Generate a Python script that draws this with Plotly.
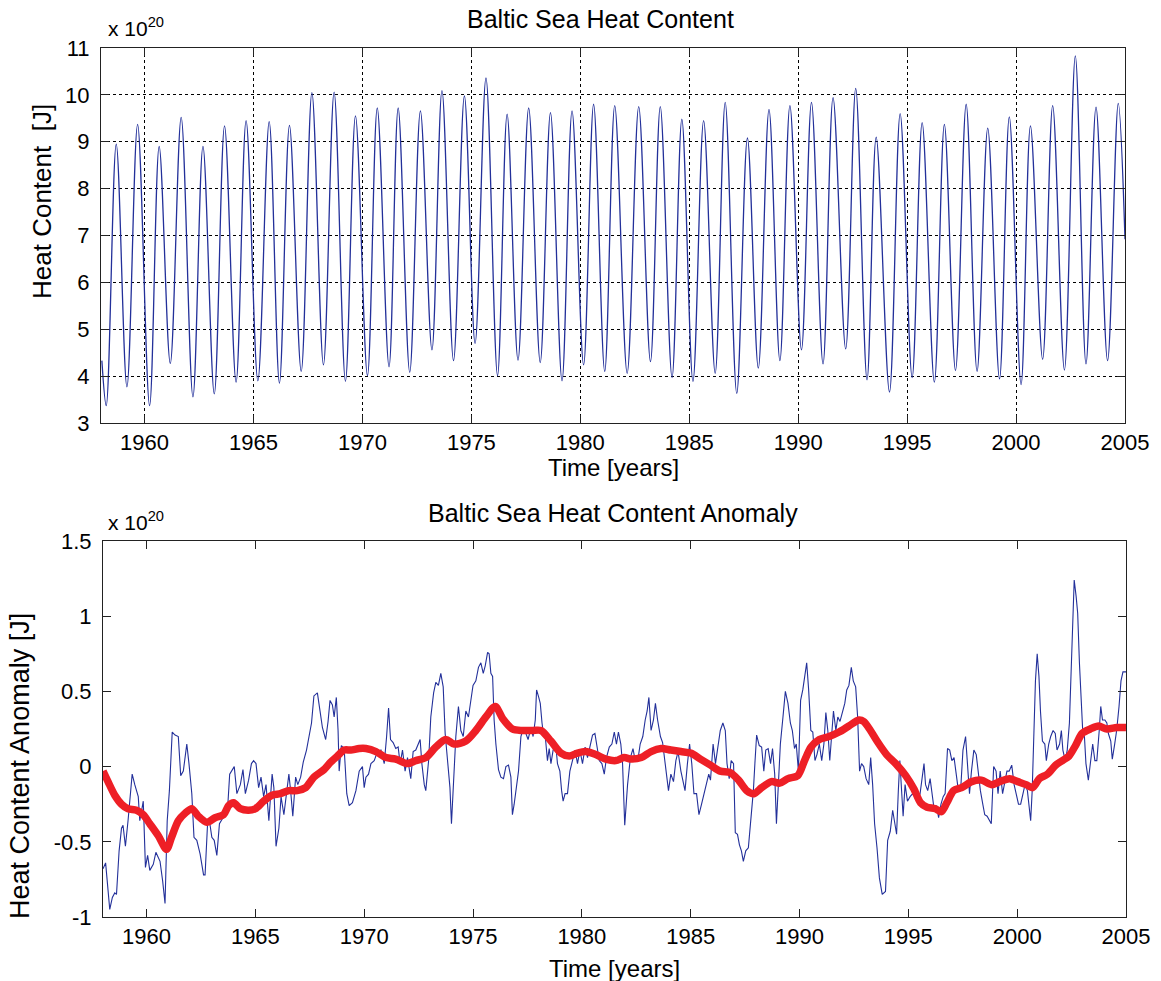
import plotly.graph_objects as go

# ---------------- DATA ----------------
# Top panel: seasonal extremes of Baltic Sea heat content (x 10^20 J)
start_t, start_v = 1958.04, 4.33
end_t, end_v = 2005.0, 6.92
trough_t = [1958.24, 1959.19, 1960.23, 1961.18, 1962.22, 1963.20, 1964.20, 1965.20, 1966.19, 1967.19,
            1968.21, 1969.22, 1970.23, 1971.22, 1972.17, 1973.19, 1974.18, 1975.17, 1976.20, 1977.14,
            1978.16, 1979.16, 1980.15, 1981.12, 1982.15, 1983.22, 1984.21, 1985.17, 1986.19, 1987.18,
            1988.17, 1989.16, 1990.15, 1991.14, 1992.18, 1993.16, 1994.19, 1995.23, 1996.25, 1997.22,
            1998.21, 1999.24, 2000.23, 2001.22, 2002.22, 2003.21, 2004.20]
trough_v = [3.37, 3.77, 3.37, 4.27, 3.56, 3.62, 3.87, 3.90, 3.85, 4.10,
            4.24, 3.89, 4.01, 4.20, 4.08, 4.56, 4.33, 4.70, 4.01, 4.34,
            4.29, 3.90, 4.24, 4.10, 4.06, 4.31, 3.97, 3.89, 4.06, 3.63,
            4.17, 4.33, 4.56, 4.26, 4.58, 3.92, 3.66, 3.97, 3.87, 4.12,
            4.10, 3.94, 3.82, 4.36, 4.13, 4.26, 4.33]
peak_t = [1958.70, 1959.68, 1960.67, 1961.68, 1962.68, 1963.67, 1964.66, 1965.72, 1966.65, 1967.68,
          1968.70, 1969.68, 1970.68, 1971.64, 1972.66, 1973.65, 1974.68, 1975.67, 1976.64, 1977.63,
          1978.63, 1979.62, 1980.61, 1981.58, 1982.68, 1983.67, 1984.66, 1985.66, 1986.65, 1987.67,
          1988.66, 1989.62, 1990.61, 1991.60, 1992.64, 1993.58, 1994.68, 1995.69, 1996.71, 1997.71,
          1998.70, 1999.69, 2000.66, 2001.68, 2002.72, 2003.67, 2004.69]
peak_v = [8.95, 9.37, 8.90, 9.52, 8.90, 9.34, 9.45, 9.43, 9.35, 10.05,
          10.06, 9.55, 9.72, 9.72, 9.66, 10.09, 9.98, 10.36, 9.59, 9.72,
          9.62, 9.66, 9.80, 9.77, 9.75, 9.75, 9.48, 9.45, 9.84, 9.08,
          9.69, 9.77, 9.84, 9.94, 10.14, 9.10, 9.60, 9.41, 9.37, 9.80,
          9.29, 9.53, 9.34, 9.77, 10.83, 9.74, 9.82]

# Bottom panel: heat content anomaly (x 10^20 J)
anom_t = [1958.0, 1958.12, 1958.31, 1958.43, 1958.54, 1958.62, 1958.74, 1958.85, 1958.92, 1959.03,
          1959.15, 1959.34, 1959.46, 1959.62, 1959.69, 1959.85, 1959.95, 1960.05, 1960.15, 1960.31,
          1960.43, 1960.62, 1960.74, 1960.85, 1960.95, 1961.05, 1961.18, 1961.31, 1961.46, 1961.57,
          1961.69, 1961.85, 1961.95, 1962.08, 1962.18, 1962.31, 1962.46, 1962.62, 1962.69, 1962.80,
          1962.89, 1963.0, 1963.11, 1963.23, 1963.35, 1963.51, 1963.62, 1963.72, 1963.82, 1963.92,
          1964.03, 1964.15, 1964.31, 1964.43, 1964.54, 1964.69, 1964.82, 1964.92, 1965.03, 1965.15,
          1965.26, 1965.38, 1965.49, 1965.62, 1965.77, 1965.85, 1965.95, 1966.08, 1966.18, 1966.31,
          1966.43, 1966.54, 1966.62, 1966.72, 1966.85, 1966.95, 1967.08, 1967.2, 1967.35, 1967.46,
          1967.58, 1967.69, 1967.85, 1967.97, 1968.08, 1968.23, 1968.34, 1968.43, 1968.54, 1968.62,
          1968.72, 1968.80, 1968.85, 1968.95, 1969.08, 1969.2, 1969.31, 1969.46, 1969.62, 1969.77,
          1969.92, 1970.0, 1970.08, 1970.2, 1970.31, 1970.46, 1970.61, 1970.77, 1970.92, 1971.03,
          1971.12, 1971.21, 1971.33, 1971.45, 1971.56, 1971.65, 1971.76, 1971.88, 1971.99, 1972.14,
          1972.25, 1972.37, 1972.5, 1972.57, 1972.65, 1972.76, 1972.83, 1972.96, 1973.06, 1973.19,
          1973.29, 1973.41, 1973.52, 1973.63, 1973.72, 1973.83, 1973.94, 1974.01, 1974.10, 1974.21,
          1974.33, 1974.44, 1974.55, 1974.67, 1974.79, 1974.90, 1975.0, 1975.13, 1975.25, 1975.36,
          1975.47, 1975.56, 1975.67, 1975.74, 1975.82, 1975.9, 1975.97, 1976.05, 1976.17, 1976.28,
          1976.40, 1976.51, 1976.63, 1976.74, 1976.81, 1976.89, 1977.0, 1977.09, 1977.20, 1977.30,
          1977.43, 1977.53, 1977.66, 1977.76, 1977.86, 1977.92, 1978.02, 1978.09, 1978.17, 1978.25,
          1978.32, 1978.42, 1978.50, 1978.58, 1978.68, 1978.81, 1978.88, 1978.99, 1979.07, 1979.14,
          1979.23, 1979.34, 1979.45, 1979.57, 1979.69, 1979.80, 1979.91, 1980.03, 1980.15, 1980.26,
          1980.38, 1980.49, 1980.60, 1980.69, 1980.80, 1980.92, 1981.03, 1981.13, 1981.26, 1981.38,
          1981.49, 1981.59, 1981.68, 1981.79, 1981.87, 1981.97, 1982.10, 1982.23, 1982.35, 1982.45,
          1982.58, 1982.68, 1982.80, 1982.91, 1983.0, 1983.08, 1983.18, 1983.29, 1983.38, 1983.48,
          1983.61, 1983.71, 1983.79, 1983.89, 1983.98, 1984.09, 1984.21, 1984.32, 1984.42, 1984.55,
          1984.65, 1984.74, 1984.85, 1984.95, 1985.05, 1985.15, 1985.27, 1985.38, 1985.50, 1985.61,
          1985.73, 1985.83, 1985.91, 1986.03, 1986.14, 1986.24, 1986.36, 1986.48, 1986.59, 1986.67,
          1986.77, 1986.86, 1986.97, 1987.05, 1987.15, 1987.24, 1987.33, 1987.42, 1987.53, 1987.65,
          1987.76, 1987.88, 1987.95, 1988.03, 1988.15, 1988.26, 1988.36, 1988.45, 1988.56, 1988.67,
          1988.76, 1988.86, 1988.94, 1989.02, 1989.12, 1989.24, 1989.35, 1989.47, 1989.58, 1989.67,
          1989.77, 1989.85, 1989.95, 1990.05, 1990.15, 1990.24, 1990.33, 1990.42, 1990.52, 1990.61,
          1990.71, 1990.80, 1990.91, 1991.02, 1991.12, 1991.21, 1991.30, 1991.39, 1991.48, 1991.56,
          1991.67, 1991.76, 1991.86, 1991.97, 1992.08, 1992.17, 1992.27, 1992.38, 1992.47, 1992.58,
          1992.67, 1992.76, 1992.85, 1992.95, 1993.06, 1993.18, 1993.27, 1993.36, 1993.45, 1993.56,
          1993.67, 1993.80, 1993.95, 1994.05, 1994.17, 1994.28, 1994.38, 1994.46, 1994.54, 1994.61,
          1994.69, 1994.76, 1994.85, 1994.96, 1995.08, 1995.20, 1995.31, 1995.43, 1995.54, 1995.64,
          1995.72, 1995.79, 1995.89, 1996.00, 1996.09, 1996.19, 1996.30, 1996.39, 1996.50, 1996.60,
          1996.69, 1996.80, 1996.90, 1997.00, 1997.10, 1997.21, 1997.30, 1997.40, 1997.51, 1997.63,
          1997.71, 1997.81, 1997.90, 1998.01, 1998.12, 1998.21, 1998.31, 1998.42, 1998.51, 1998.62,
          1998.72, 1998.81, 1998.92, 1999.03, 1999.12, 1999.22, 1999.33, 1999.42, 1999.53, 1999.63,
          1999.75, 1999.86, 1999.95, 2000.06, 2000.16, 2000.25, 2000.36, 2000.47, 2000.54, 2000.62,
          2000.69, 2000.77, 2000.84, 2000.92, 2001.00, 2001.07, 2001.16, 2001.27, 2001.34, 2001.45,
          2001.54, 2001.65, 2001.75, 2001.83, 2001.95, 2002.03, 2002.10, 2002.21, 2002.30, 2002.40,
          2002.50, 2002.56, 2002.62, 2002.71, 2002.78, 2002.86, 2002.93, 2003.01, 2003.09, 2003.16,
          2003.27, 2003.36, 2003.47, 2003.57, 2003.66, 2003.77, 2003.84, 2003.92, 2004.03, 2004.12,
          2004.19, 2004.30, 2004.37, 2004.48, 2004.57, 2004.68, 2004.77, 2004.86, 2005.0]
anom_v = [-0.68, -0.64, -0.95, -0.87, -0.84, -0.85, -0.56, -0.41, -0.39, -0.53,
          -0.36, -0.05, -0.12, -0.20, -0.36, -0.23, -0.67, -0.59, -0.69, -0.65,
          -0.57, -0.63, -0.76, -0.91, -0.36, -0.16, 0.23, 0.21, 0.20, -0.06,
          -0.03, 0.15, 0.02, -0.18, -0.47, -0.49, -0.58, -0.72, -0.72, -0.39,
          -0.36, -0.47, -0.49, -0.59, -0.38, -0.34, -0.27, -0.29, -0.05, -0.03,
          0.00, -0.18, -0.12, -0.02, -0.18, -0.09, 0.02, 0.04, 0.02, -0.14,
          -0.07, -0.20, -0.12, -0.36, -0.05, -0.14, -0.53, -0.41, -0.20, -0.32,
          -0.16, -0.05, -0.16, -0.33, -0.07, -0.12, -0.07, 0.03, 0.11, 0.21,
          0.29, 0.47, 0.49, 0.37, 0.26, 0.18, 0.30, 0.44, 0.41, 0.33,
          0.46, 0.24, -0.03, 0.14, 0.12, -0.18, -0.26, -0.24, -0.16, -0.03,
          0.00, -0.14, -0.07, -0.05, 0.02, 0.04, 0.10, 0.11, 0.02, 0.20,
          0.39, 0.18, 0.16, 0.12, 0.13, 0.02, 0.11, -0.03, 0.06, -0.08,
          0.10, 0.11, 0.16, 0.18, 0.02, -0.12, -0.16, 0.04, 0.33, 0.49,
          0.56, 0.54, 0.62, 0.53, 0.22, 0.02, -0.14, -0.38, -0.12, 0.20,
          0.40, 0.24, 0.20, 0.37, 0.33, 0.44, 0.54, 0.57, 0.66, 0.69,
          0.62, 0.67, 0.76, 0.75, 0.62, 0.60, 0.31, 0.15, -0.02, -0.07,
          -0.08, 0.00, 0.01, -0.07, -0.32, -0.25, -0.12, -0.03, 0.20, 0.25,
          0.22, 0.18, 0.26, 0.20, 0.31, 0.51, 0.46, 0.42, 0.29, 0.20,
          0.20, 0.04, 0.12, 0.02, 0.11, 0.13, 0.02, -0.03, -0.16, -0.23,
          -0.18, -0.18, -0.03, 0.04, 0.11, 0.02, 0.11, 0.02, 0.13, 0.06,
          0.15, 0.21, 0.22, 0.13, 0.04, 0.02, -0.05, 0.06, 0.13, 0.15,
          0.23, 0.15, 0.23, 0.15, 0.02, -0.39, -0.12, 0.06, 0.12, 0.04,
          0.05, 0.15, 0.20, 0.31, 0.37, 0.46, 0.24, 0.31, 0.42, 0.31,
          0.20, 0.16, 0.06, -0.07, -0.16, -0.05, -0.10, 0.04, 0.10, -0.03,
          -0.09, -0.16, 0.02, 0.15, 0.02, -0.18, -0.18, -0.32, -0.25, -0.18,
          -0.12, -0.05, -0.09, 0.15, 0.02, 0.11, 0.24, 0.29, 0.24, 0.02,
          -0.08, 0.04, 0.02, -0.44, -0.45, -0.52, -0.56, -0.63, -0.56, -0.54,
          -0.38, -0.16, 0.02, 0.21, 0.14, 0.13, -0.03, 0.11, 0.12, 0.02,
          0.12, -0.05, -0.38, -0.16, 0.15, 0.33, 0.50, 0.42, 0.29, 0.24,
          0.12, 0.15, -0.03, 0.44, 0.51, 0.60, 0.69, 0.51, 0.24, 0.23,
          0.04, 0.08, 0.15, 0.04, 0.15, 0.36, 0.24, 0.04, 0.20, 0.37,
          0.24, 0.33, 0.30, 0.36, 0.42, 0.51, 0.54, 0.66, 0.57, 0.53,
          0.33, -0.03, 0.02, 0.00, -0.08, -0.12, 0.06, -0.12, -0.38, -0.54,
          -0.74, -0.85, -0.83, -0.49, -0.43, -0.29, -0.38, -0.45, -0.16, 0.04,
          -0.16, -0.33, -0.12, -0.23, -0.20, -0.18, -0.20, -0.23, -0.18, -0.08,
          0.02, -0.12, -0.16, -0.08, -0.18, -0.29, -0.26, -0.34, -0.25, -0.20,
          -0.18, 0.12, 0.11, 0.04, 0.06, -0.05, -0.16, -0.16, 0.11, 0.20,
          0.04, -0.18, -0.03, 0.11, 0.08, -0.03, -0.16, -0.25, -0.32, -0.33,
          -0.36, -0.38, 0.00, -0.03, -0.18, -0.03, -0.18, -0.12, -0.03, -0.03,
          0.01, -0.12, -0.18, -0.25, -0.25, -0.18, -0.12, -0.16, -0.25, -0.36,
          -0.16, 0.20, 0.57, 0.75, 0.60, 0.37, 0.17, 0.15, 0.04, 0.15,
          0.20, 0.24, 0.22, 0.11, 0.15, 0.24, 0.11, 0.04, 0.11, 0.29,
          0.69, 1.02, 1.24, 1.13, 1.02, 0.69, 0.42, 0.24, 0.20, 0.02,
          -0.09, 0.02, 0.15, 0.04, 0.04, 0.24, 0.40, 0.31, 0.31, 0.29,
          0.22, 0.17, 0.05, 0.15, 0.24, 0.40, 0.57, 0.63, 0.63]

# Smoothed anomaly (red)
smooth_t = [1958.0, 1958.23, 1958.54, 1958.85, 1959.15, 1959.54, 1959.85, 1960.15, 1960.54, 1960.92,
            1961.15, 1961.46, 1961.77, 1962.08, 1962.38, 1962.77, 1963.15, 1963.54, 1963.77, 1964.0,
            1964.31, 1964.69, 1965.0, 1965.38, 1965.77, 1966.15, 1966.54, 1966.92, 1967.31, 1967.69,
            1968.15, 1968.46, 1968.77, 1969.08, 1969.38, 1969.77, 1970.08, 1970.54, 1971.0, 1971.45,
            1971.99, 1972.37, 1972.83, 1973.29, 1973.75, 1974.13, 1974.67, 1975.13, 1975.59, 1976.02,
            1976.36, 1976.81, 1977.27, 1977.73, 1978.12, 1978.58, 1979.04, 1979.42, 1979.80, 1980.18,
            1980.64, 1981.1, 1981.56, 1981.94, 1982.27, 1982.73, 1983.18, 1983.64, 1984.09, 1984.55,
            1985.0, 1985.45, 1985.91, 1986.36, 1986.82, 1987.20, 1987.58, 1987.91, 1988.26, 1988.71,
            1989.09, 1989.47, 1989.92, 1990.23, 1990.53, 1990.91, 1991.36, 1991.82, 1992.27, 1992.73,
            1992.95, 1993.26, 1993.56, 1994.0, 1994.42, 1994.88, 1995.26, 1995.56, 1995.86, 1996.24,
            1996.52, 1996.77, 1997.08, 1997.45, 1997.91, 1998.36, 1998.82, 1999.20, 1999.65, 2000.03,
            2000.41, 2000.71, 2001.02, 2001.39, 2001.77, 2002.08, 2002.38, 2002.68, 2002.98, 2003.36,
            2003.74, 2004.12, 2004.58, 2005.0]
smooth_v = [-0.03, -0.10, -0.19, -0.25, -0.28, -0.29, -0.32, -0.38, -0.46, -0.55,
            -0.47, -0.36, -0.31, -0.28, -0.33, -0.37, -0.34, -0.32, -0.26, -0.24,
            -0.28, -0.29, -0.28, -0.23, -0.19, -0.18, -0.16, -0.16, -0.14, -0.07,
            -0.02, 0.03, 0.07, 0.11, 0.11, 0.12, 0.12, 0.10, 0.06, 0.05,
            0.02, 0.04, 0.06, 0.13, 0.18, 0.15, 0.17, 0.24, 0.33, 0.40,
            0.32, 0.25, 0.24, 0.24, 0.24, 0.17, 0.09, 0.07, 0.09, 0.10,
            0.08, 0.05, 0.04, 0.06, 0.05, 0.06, 0.10, 0.12, 0.11, 0.10,
            0.09, 0.05, 0.01, -0.03, -0.04, -0.09, -0.16, -0.18, -0.14, -0.10,
            -0.11, -0.08, -0.06, 0.04, 0.13, 0.18, 0.20, 0.23, 0.27, 0.31,
            0.30, 0.24, 0.17, 0.08, 0.02, -0.06, -0.15, -0.24, -0.27, -0.28,
            -0.30, -0.24, -0.16, -0.14, -0.10, -0.09, -0.12, -0.10, -0.08, -0.10,
            -0.12, -0.14, -0.08, -0.05, 0.01, 0.04, 0.07, 0.14, 0.22, 0.25,
            0.27, 0.25, 0.26, 0.26]

x_ticks = [1960, 1965, 1970, 1975, 1980, 1985, 1990, 1995, 2000, 2005]
top_yticks = [3, 4, 5, 6, 7, 8, 9, 10, 11]
bot_yticks = [-1, -0.5, 0, 0.5, 1, 1.5]
bot_yticklabels = ["-1", "-0.5", "0", "0.5", "1", "1.5"]

# ---------------- FIGURE ----------------
W, H = 1161, 981
FONT = "Liberation Sans, Arial, Helvetica, sans-serif"

pts = sorted([(start_t, start_v), (end_t, end_v)] + list(zip(trough_t, trough_v)) + list(zip(peak_t, peak_v)))
hc_t = [p[0] for p in pts]
hc_v = [p[1] for p in pts]

fig = go.Figure()
fig.add_trace(go.Scatter(x=hc_t, y=hc_v, mode="lines", line=dict(color="#23309a", width=1.3, shape="spline", smoothing=1.0),
                         xaxis="x", yaxis="y", showlegend=False, hoverinfo="skip"))
fig.add_trace(go.Scatter(x=anom_t, y=anom_v, mode="lines", line=dict(color="#23309a", width=1.1),
                         xaxis="x2", yaxis="y2", showlegend=False, hoverinfo="skip"))
fig.add_trace(go.Scatter(x=smooth_t, y=smooth_v, mode="lines", line=dict(color="#ee1f26", width=7.5, shape="spline", smoothing=0.8),
                         xaxis="x2", yaxis="y2", showlegend=False, hoverinfo="skip"))

def px(x):
    return x / W

def py(y):
    return 1 - y / H

axis_common = dict(showline=True, linecolor="#222", linewidth=1, mirror="ticks", ticks="inside", ticklen=8,
                   tickcolor="#222", tickwidth=1, zeroline=False, automargin=False,
                   tickfont=dict(family=FONT, size=22, color="black"))

fig.update_layout(
    template="none",
    width=W, height=H, autosize=False,
    margin=dict(l=0, r=0, t=0, b=0, pad=0),
    paper_bgcolor="white", plot_bgcolor="white",
    xaxis=dict(domain=[px(101), px(1125)], range=[1958, 2005], tickvals=x_ticks, anchor="y",
               showgrid=True, gridcolor="black", griddash="dot", gridwidth=1, **axis_common),
    yaxis=dict(domain=[py(423), py(48)], range=[3, 11], tickvals=top_yticks, anchor="x",
               showgrid=True, gridcolor="black", griddash="dot", gridwidth=1, ticklabelstandoff=6, **axis_common),
    xaxis2=dict(domain=[px(103), px(1126)], range=[1958, 2005], tickvals=x_ticks, anchor="y2",
                showgrid=False, **axis_common),
    yaxis2=dict(domain=[py(917), py(541)], range=[-1, 1.5], tickvals=bot_yticks, ticktext=bot_yticklabels,
                anchor="x2", showgrid=False, ticklabelstandoff=6, **axis_common),
)

def ann(text, x, y, size=21, angle=0, xanchor="center", yanchor="middle"):
    fig.add_annotation(text=text, x=px(x), y=py(y), xref="paper", yref="paper", showarrow=False,
                       textangle=angle, xanchor=xanchor, yanchor=yanchor,
                       font=dict(family=FONT, size=size, color="black"))

ann("Baltic Sea Heat Content", 600, 19, size=25)
ann("Baltic Sea Heat Content Anomaly", 613, 513, size=25)
ann("Time [years]", 613, 467, size=24)
ann("Time [years]", 614, 968, size=24)
ann("Heat Content  [J]", 42, 202, size=26, angle=-90)
ann("Heat Content Anomaly [J]", 20, 766, size=27, angle=-90)
ann("x 10<sup>20</sup>", 106, 27, size=21, xanchor="left")
ann("x 10<sup>20</sup>", 106, 521, size=21, xanchor="left")

fig.write_html("out.html")
